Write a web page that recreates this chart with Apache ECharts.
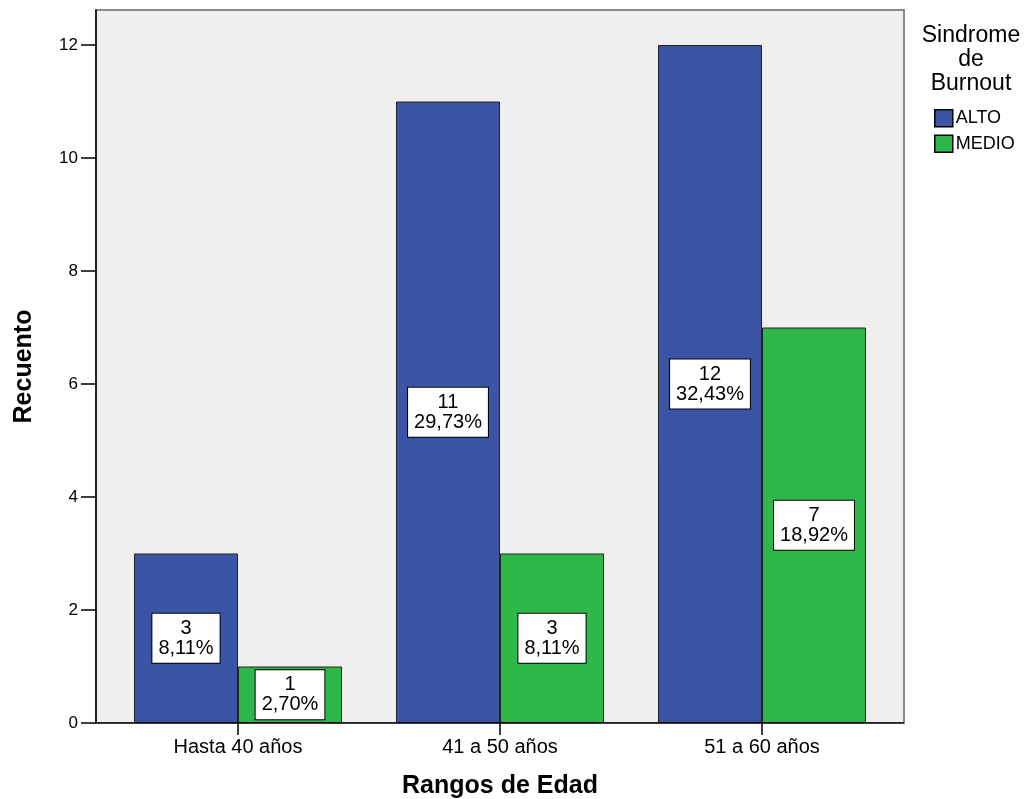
<!DOCTYPE html>
<html>
<head>
<meta charset="utf-8">
<script src="https://cdn.jsdelivr.net/npm/echarts@6/dist/echarts.min.js"></script>
<style>
  html, body { margin: 0; padding: 0; background: #ffffff; }
  #chart { width: 1030px; height: 799px; }
</style>
</head>
<body>
<div id="chart"></div>
<script>
// Age ranges and burnout counts
var categories = ['Hasta 40 años', '41 a 50 años', '51 a 60 años'];
var seriesNames = ['ALTO', 'MEDIO'];
var altoCounts = [3, 11, 12];
var medioCounts = [1, 3, 7];
var altoPercents = ['8,11%', '29,73%', '32,43%'];
var medioPercents = ['2,70%', '8,11%', '18,92%'];
var yTicks = [0, 2, 4, 6, 8, 10, 12];

var FONT = 'Liberation Sans, Arial, sans-serif';
var Y_MAX = 12.62;

function labelFor(percents) {
  return {
    show: true,
    position: 'inside',
    formatter: function (p) { return p.value + '\n' + percents[p.dataIndex]; },
    color: '#000',
    fontFamily: FONT,
    fontSize: 20,
    lineHeight: 20,
    backgroundColor: '#ffffff',
    borderColor: '#000000',
    borderWidth: 1,
    padding: [5, 6, 4, 6]
  };
}

var chart = echarts.init(document.getElementById('chart'), null, { renderer: 'canvas' });
chart.setOption({
  animation: false,
  textStyle: { fontFamily: FONT },
  grid: [
    // frame of the plot area
    { left: 96, top: 10, width: 808, height: 713, show: true, outerBoundsMode: 'none',
      backgroundColor: '#efefef', borderColor: '#8a8a8a', borderWidth: 2 },
    // bars
    { left: 107, top: 10, width: 786, height: 713, outerBoundsMode: 'none' }
  ],
  xAxis: [
    { gridIndex: 0, type: 'value', min: 0, max: 1, show: false },
    { gridIndex: 1, type: 'category', data: categories,
      axisLine: { show: false },
      axisTick: { show: true, alignWithLabel: true, length: 12, lineStyle: { color: '#000', width: 1.5 } },
      axisLabel: { color: '#000', fontSize: 20, fontFamily: FONT, margin: 14 },
      name: 'Rangos de Edad', nameLocation: 'middle', nameGap: 51,
      nameTextStyle: { color: '#000', fontSize: 25, fontWeight: 'bold', fontFamily: FONT }
    }
  ],
  yAxis: [
    { gridIndex: 0, type: 'value', min: 0, max: Y_MAX,
      axisLine: { show: true, lineStyle: { color: '#000', width: 1.5 } },
      axisTick: { show: true, length: 15, customValues: yTicks, lineStyle: { color: '#000', width: 1.5 } },
      axisLabel: { color: '#000', fontSize: 17, fontFamily: FONT, margin: 18, customValues: yTicks },
      splitLine: { show: false },
      name: 'Recuento', nameLocation: 'middle', nameGap: 59,
      nameTextStyle: { color: '#000', fontSize: 25, fontWeight: 'bold', fontFamily: FONT }
    },
    { gridIndex: 1, type: 'value', min: 0, max: Y_MAX, show: false, splitLine: { show: false } },
    { gridIndex: 0, type: 'value', min: 0, max: Y_MAX, show: false, splitLine: { show: false } }
  ],
  series: [
    // horizontal baseline across the frame
    { type: 'line', xAxisIndex: 0, yAxisIndex: 2, data: [[0, 0], [1, 0]], symbol: 'none',
      lineStyle: { color: '#000', width: 1.5 }, silent: true, z: 5 },
    { name: seriesNames[0], type: 'bar', xAxisIndex: 1, yAxisIndex: 1, data: altoCounts,
      barGap: '0%', barCategoryGap: '20.6%',
      itemStyle: { color: '#3c54a6', borderColor: '#222', borderWidth: 1 },
      label: labelFor(altoPercents) },
    { name: seriesNames[1], type: 'bar', xAxisIndex: 1, yAxisIndex: 1, data: medioCounts,
      barGap: '0%', barCategoryGap: '20.6%',
      itemStyle: { color: '#2fb84a', borderColor: '#222', borderWidth: 1 },
      label: labelFor(medioPercents) }
  ],
  legend: {
    data: seriesNames,
    orient: 'vertical',
    left: 929, top: 104,
    itemWidth: 18, itemHeight: 17, itemGap: 7,
    icon: 'rect',
    itemStyle: { borderColor: '#000', borderWidth: 1.5 },
    textStyle: { color: '#000', fontSize: 18, fontFamily: FONT, padding: [0, 0, 0, -2] }
  },
  graphic: [
    { type: 'text', x: 971, y: 24,
      style: { text: 'Sindrome\nde\nBurnout', fill: '#000', font: '23px ' + FONT,
        lineHeight: 24, align: 'center', verticalAlign: 'top' } }
  ]
});
</script>
</body>
</html>
